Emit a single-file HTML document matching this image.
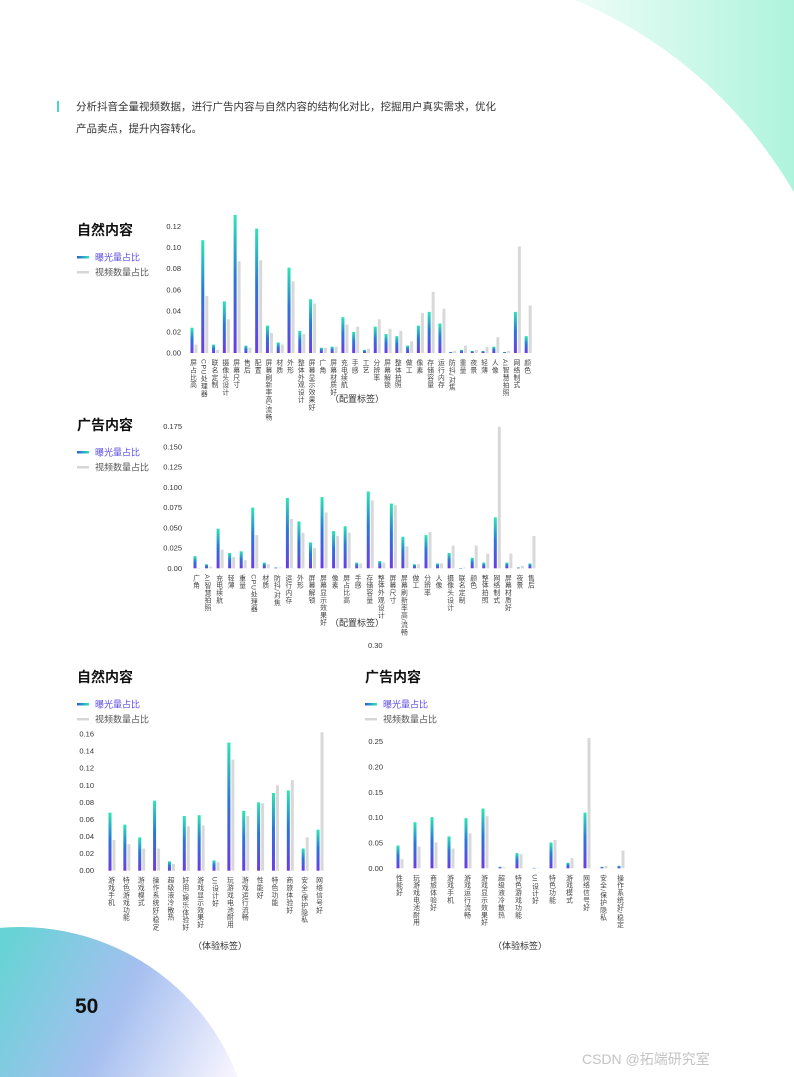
<!DOCTYPE html>
<html><head><meta charset="utf-8">
<style>
html,body{margin:0;padding:0;background:#fff;}
body{width:794px;height:1077px;overflow:hidden;position:relative;font-family:"Liberation Sans","Noto Sans CJK SC",sans-serif;}
svg{display:block;}
svg text{font-family:"Liberation Sans","Noto Sans CJK SC",sans-serif;}
</style></head>
<body>
<svg id="page" width="794" height="1077" viewBox="0 0 794 1077" xmlns="http://www.w3.org/2000/svg">
<defs>
<linearGradient id="barGrad" x1="0" y1="0" x2="0" y2="1">
<stop offset="0" stop-color="#2ee6b4"/><stop offset="0.45" stop-color="#2a78d8"/><stop offset="1" stop-color="#6b3be6"/>
</linearGradient>
<linearGradient id="legGrad" x1="0" y1="0" x2="1" y2="0">
<stop offset="0" stop-color="#2a5fd8"/><stop offset="1" stop-color="#2ee6b4"/>
</linearGradient>
<linearGradient id="tr" x1="0" y1="0" x2="1" y2="0">
<stop offset="0" stop-color="#f2fdf9"/><stop offset="1" stop-color="#aef4dd"/>
</linearGradient>
<linearGradient id="bl" gradientUnits="userSpaceOnUse" x1="0" y1="960" x2="230" y2="1077">
<stop offset="0" stop-color="#68d3d6"/><stop offset="0.5" stop-color="#a6bff0"/><stop offset="1" stop-color="#f6f4fe"/>
</linearGradient>
<clipPath id="pg"><rect width="794" height="1077"/></clipPath>
</defs>
<rect width="794" height="1077" fill="#fff"/>
<rect x="560" y="0" width="234" height="340" fill="url(#tr)"/>
<circle cx="400" cy="420" r="455" fill="#fff"/>
<g clip-path="url(#pg)">
<circle cx="20" cy="1160" r="233" fill="url(#bl)"/>
</g>
<rect x="57" y="101" width="2" height="11" fill="#4fd6c2"/>
<text x="76" y="110" font-size="10.5" fill="#333">分析抖音全量视频数据，进行广告内容与自然内容的结构化对比，挖掘用户真实需求，优化</text>
<text x="76" y="132" font-size="10.5" fill="#333">产品卖点，提升内容转化。</text>
<text x="75" y="1013" font-size="21" font-weight="bold" fill="#111">50</text>
<text x="582" y="1064" font-size="14" fill="#c4c4c4">CSDN @拓端研究室</text>
<text x="368" y="648" font-size="7.5" fill="#333">0.30</text>
<g id="charts"></g>
</svg>
<script>
// ---- Chart 1: 自然内容 (配置标签)
const c1Cats = ["屏占比高","CPU处理器","联名定制","摄像头设计","屏幕尺寸","售后","配置","屏幕刷新率高/流畅","材质","外形","整体外观设计","屏幕显示效果好","广角","屏幕材质好","充电续航","手感","工艺","分辨率","屏幕解锁","整体拍照","做工","像素","存储容量","运行内存","防抖/对焦","重量","夜景","轻薄","人像","AI智慧拍照","网络制式","颜色"];
const c1Expo = [0.024,0.107,0.008,0.049,0.131,0.007,0.118,0.026,0.010,0.081,0.021,0.051,0.005,0.006,0.034,0.020,0.003,0.025,0.018,0.016,0.007,0.026,0.039,0.028,0.001,0.003,0.002,0.002,0.006,0.001,0.039,0.016];
const c1Video = [0.008,0.054,0.003,0.032,0.087,0.005,0.088,0.019,0.008,0.068,0.018,0.047,0.005,0.006,0.027,0.025,0.004,0.032,0.023,0.021,0.011,0.038,0.058,0.042,0.002,0.007,0.003,0.006,0.015,0.002,0.101,0.045];
const c1Ticks = ["0.00","0.02","0.04","0.06","0.08","0.10","0.12"];
// ---- Chart 2: 广告内容 (配置标签)
const c2Cats = ["广角","AI智慧拍照","充电续航","轻薄","重量","CPU处理器","材质","防抖/对焦","运行内存","外形","屏幕解锁","屏幕显示效果好","像素","屏占比高","手感","存储容量","整体外观设计","屏幕尺寸","屏幕刷新率高/流畅","做工","分辨率","人像","摄像头设计","联名定制","颜色","整体拍照","网络制式","屏幕材质好","夜景","售后"];
const c2Expo = [0.015,0.005,0.049,0.019,0.021,0.075,0.007,0.001,0.087,0.058,0.032,0.088,0.046,0.052,0.007,0.095,0.009,0.080,0.039,0.005,0.041,0.006,0.019,0.000,0.013,0.007,0.063,0.007,0.001,0.006];
const c2Video = [0.000,0.002,0.023,0.014,0.010,0.041,0.005,0.001,0.061,0.044,0.025,0.069,0.040,0.044,0.006,0.084,0.007,0.078,0.027,0.005,0.045,0.006,0.028,0.001,0.028,0.018,0.175,0.018,0.003,0.040];
const c2Ticks = ["0.00","0.025","0.050","0.075","0.100","0.125","0.150","0.175"];
// ---- Chart 3: 自然内容 (体验标签)
const c3Cats = ["游戏手机","特色游戏功能","游戏模式","操作系统好/稳定","超级液冷散热","好用/娱乐体验好","游戏显示效果好","UI设计好","玩游戏电池耐用","游戏运行流畅","性能好","特色功能","商旅体验好","安全/保护隐私","网络信号好"];
const c3Expo = [0.068,0.054,0.039,0.082,0.011,0.064,0.065,0.012,0.150,0.070,0.080,0.091,0.094,0.026,0.048];
const c3Video = [0.036,0.031,0.026,0.026,0.008,0.052,0.053,0.010,0.130,0.064,0.079,0.100,0.106,0.039,0.162];
const c3Ticks = ["0.00","0.02","0.04","0.06","0.08","0.10","0.12","0.14","0.16"];
// ---- Chart 4: 广告内容 (体验标签)
const c4Cats = ["性能好","玩游戏电池耐用","商旅体验好","游戏手机","游戏运行流畅","游戏显示效果好","超级液冷散热","特色游戏功能","UI设计好","特色功能","游戏模式","网络信号好","安全/保护隐私","操作系统好/稳定"];
const c4Expo = [0.045,0.091,0.101,0.063,0.099,0.118,0.003,0.030,0.001,0.051,0.011,0.110,0.003,0.005];
const c4Video = [0.018,0.043,0.051,0.039,0.069,0.103,0.002,0.028,0.001,0.056,0.020,0.257,0.005,0.035];
const c4Ticks = ["0.00","0.05","0.10","0.15","0.20","0.25"];

const NS="http://www.w3.org/2000/svg";
const root=document.getElementById('charts');
function mk(tag,attrs,parent){const e=document.createElementNS(NS,tag);for(const k in attrs)e.setAttribute(k,attrs[k]);(parent||root).appendChild(e);return e;}

function drawChart(o){
  const g=mk('g',{});
  
  
  const yScale=v=>o.y0-(v/o.vmax)*(o.y0-o.ytop);
  const xScale=i=>o.x0+i*o.step;
  const t=mk('text',{x:o.tx,y:o.ty,'font-size':14,'font-weight':'bold',fill:'#111'},g);t.textContent=o.title;
  
  
  const l1=mk('rect',{x:o.tx,y:o.ty+21,width:12,height:2.5,fill:'url(#legGrad)'},g);
  
  
  const lt1=mk('text',{x:o.tx+18,y:o.ty+25.5,'font-size':9,fill:'#5a4de0'},g);lt1.textContent='曝光量占比';
  
  
  const l2=mk('rect',{x:o.tx,y:o.ty+36,width:12,height:2.5,fill:'#d6d6d6'},g);
  
  
  const lt2=mk('text',{x:o.tx+18,y:o.ty+40.5,'font-size':9,fill:'#555'},g);lt2.textContent='视频数量占比';
  
  
  o.ticks.forEach(tk=>{
    const tt=mk('text',{x:o.tickX,y:yScale(parseFloat(tk))+2.5,'font-size':7.5,fill:'#333','text-anchor':'end'},g);
    tt.textContent=tk;
    
    
  });
  o.cats.forEach((c,i)=>{
    const x=xScale(i);
    const vy=yScale(o.video[i]);
    const gb=mk('rect',{x:x+2.5,y:vy,width:3,height:Math.max(0.5,o.y0-vy),fill:'#d8d8d8'},g);
    
    
    const ey=yScale(o.expo[i]);
    const b=mk('rect',{x:x-1.5,y:ey,width:3,height:Math.max(0.5,o.y0-ey),fill:'url(#barGrad)'},g);
    
    
    const lab=mk('text',{x:x,y:o.y0+6,'font-size':6.8,fill:'#444','writing-mode':'vertical-rl','text-orientation':'upright','glyph-orientation-vertical':0,'letter-spacing':0.6},g);
    lab.textContent=c;
    
    
  });
  const xt=mk('text',{x:o.axX,y:o.axY,'font-size':9,fill:'#333','text-anchor':'middle'},g);
  xt.textContent=o.axis;
  
  
}

drawChart({name:'chart-natural-config',title:'自然内容',tx:77,ty:235,cats:c1Cats,expo:c1Expo,video:c1Video,ticks:c1Ticks,vmax:0.12,y0:353,ytop:226.5,x0:192,step:10.78,tickX:181,axis:'（配置标签）',axX:357,axY:402});
drawChart({name:'chart-ad-config',title:'广告内容',tx:77,ty:430,cats:c2Cats,expo:c2Expo,video:c2Video,ticks:c2Ticks,vmax:0.175,y0:568.3,ytop:426.7,x0:195,step:11.55,tickX:182,axis:'（配置标签）',axX:357,axY:626});
drawChart({name:'chart-natural-experience',title:'自然内容',tx:77,ty:682,cats:c3Cats,expo:c3Expo,video:c3Video,ticks:c3Ticks,vmax:0.16,y0:870.7,ytop:734,x0:110,step:14.86,tickX:94,axis:'（体验标签）',axX:220,axY:949});
drawChart({name:'chart-ad-experience',title:'广告内容',tx:365,ty:682,cats:c4Cats,expo:c4Expo,video:c4Video,ticks:c4Ticks,vmax:0.25,y0:868.3,ytop:741.7,x0:398,step:17,tickX:383,axis:'（体验标签）',axX:520,axY:949});
</script>
</body></html>
